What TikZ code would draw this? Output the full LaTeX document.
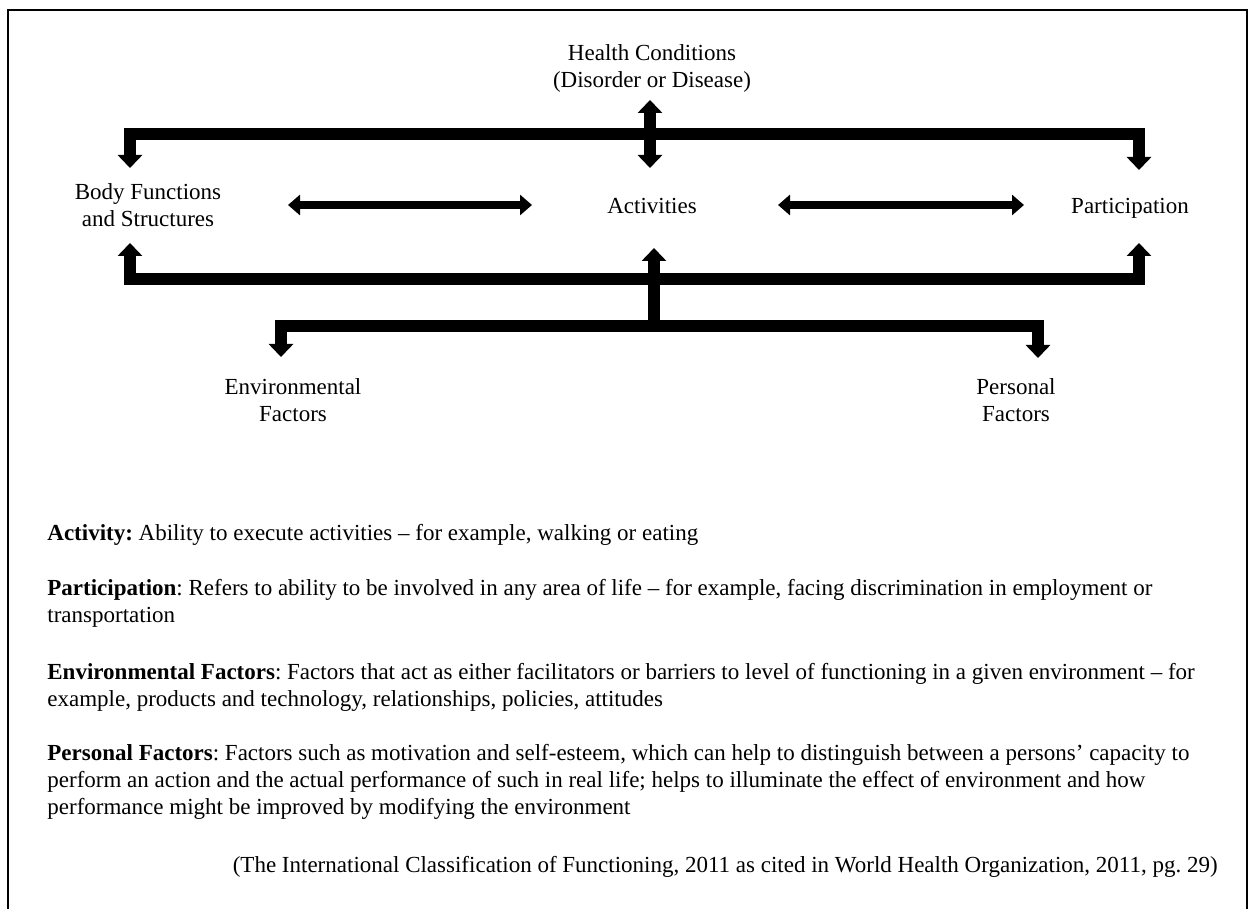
\documentclass[tikz,border=0pt]{standalone}
\usepackage{fontspec}
\setmainfont{Liberation Serif}
\usetikzlibrary{arrows.meta}
\frenchspacing

\begin{document}
\begin{tikzpicture}[x=0.5pt,y=-0.5pt,font=\fontsize{11.5}{13.5}\selectfont,
    >={Triangle[width=12pt,length=6.5pt]},
    lbl/.style={align=center,inner sep=0pt},
    para/.style={align=left,inner sep=0pt,anchor=north west},
    bar/.style={line width=6pt,line join=miter},
    link/.style={line width=4pt,<->,>={Triangle[width=10pt,length=6pt]}},
    frame/.style={line width=1.2pt}]
  \useasboundingbox (0,0) rectangle (1248,909);
  \draw[frame] (8,930) |- (1247,10) -- (1247,930);

  % labels of the model
  \node[lbl] (hc) at (652,68) {Health Conditions\\(Disorder or Disease)};
  \node[lbl] (bfs) at (148,205) {Body Functions\\and Structures};
  \node[lbl,anchor=base] (act) at (652,214) {Activities};
  \node[lbl,anchor=base] (par) at (1130,214) {Participation};
  \node[lbl] (env) at (293,400) {Environmental\\Factors};
  \node[lbl] (pers) at (1016,400) {Personal\\Factors};

  % arrow ends
  \coordinate (hcUp) at (650,100);  \coordinate (hcDn) at (650,168);
  \coordinate (bfsTop) at (130,168); \coordinate (parTop) at (1139,170);
  \coordinate (bfsBot) at (130,243); \coordinate (parBot) at (1139,243);
  \coordinate (actBot) at (654,248); \coordinate (hub) at (654,326);
  \coordinate (envTop) at (281,357); \coordinate (persTop) at (1038,358);
  \coordinate (ba1) at (288,205); \coordinate (ba2) at (532,205);
  \coordinate (ap1) at (778,205); \coordinate (ap2) at (1024,205);

  \draw[bar,<->] (hcUp) -- (hcDn);
  \draw[bar,<->] (bfsTop) -- (bfsTop |- 0,134) -- (parTop |- 0,134) -- (parTop);
  \draw[bar,<->] (bfsBot) -- (bfsBot |- 0,279) -- (parBot |- 0,279) -- (parBot);
  \draw[bar,->] (hub) -- (actBot);
  \draw[bar,<->] (envTop) -- (envTop |- hub) -- (persTop |- hub) -- (persTop);
  \draw[link] (ba1) -- (ba2);
  \draw[link] (ap1) -- (ap2);

  % definitions
  \node[para] (dact) at (47,524) {\textbf{Activity:} Ability to execute activities -- for example, walking or eating};
  \node[para] (dpar) at (47,579) {\textbf{Participation}: Refers to ability to be involved in any area of life -- for example, facing discrimination in employment or\\
    transportation};
  \node[para] (denv) at (47,663) {\textbf{Environmental Factors}: Factors that act as either facilitators or barriers to level of functioning in a given environment -- for\\
    example, products and technology, relationships, policies, attitudes};
  \node[para] (dpers) at (47,744) {\textbf{Personal Factors}: Factors such as motivation and self-esteem, which can help to distinguish between a persons’ capacity to\\
    perform an action and the actual performance of such in real life; helps to illuminate the effect of environment and how\\
    performance might be improved by modifying the environment};
  \node[lbl,anchor=east] (cite) at (1218,867) {(The International Classification of Functioning, 2011 as cited in World Health Organization, 2011, pg. 29)};
\end{tikzpicture}
\end{document}
